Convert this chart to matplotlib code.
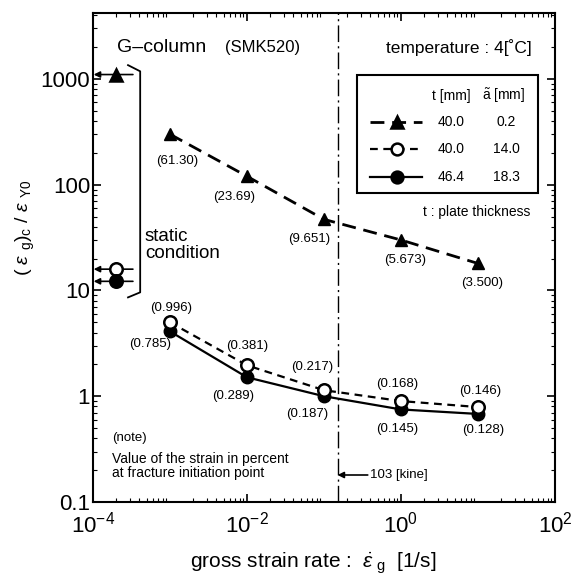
import numpy as np
import matplotlib
matplotlib.use("Agg")
import matplotlib.pyplot as plt
from matplotlib.lines import Line2D
from matplotlib.patches import Rectangle

plt.rcParams['font.family'] = ['Liberation Sans', 'DejaVu Sans']
plt.rcParams['mathtext.fontset'] = 'custom'
plt.rcParams['mathtext.rm'] = 'Liberation Sans'
plt.rcParams['mathtext.it'] = 'Liberation Sans:italic'

# data
rate = [1e-3, 1e-2, 1e-1, 1e0, 1e1]
tri_y = [300, 120, 47, 30, 18]
open_y = [5.0, 1.96, 1.14, 0.90, 0.79]
fill_y = [4.1, 1.51, 1.0, 0.75, 0.68]
tri_lbl = ['(61.30)', '(23.69)', '(9.651)', '(5.673)', '(3.500)']
open_lbl = ['(0.996)', '(0.381)', '(0.217)', '(0.168)', '(0.146)']
fill_lbl = ['(0.785)', '(0.289)', '(0.187)', '(0.145)', '(0.128)']
static_x = 2e-4
static_y = [1100, 15.9, 12.2]
kine_rate = 0.15

# label offsets in pixels (dx, dy up)
tri_off = [(7, -27), (-13, -21), (-15, -20), (4, -20), (4, -20)]
open_off = [(1, 14), (0, 19), (-12, 23), (-4, 17), (2, 16)]
fill_off = [(-20, -13), (-14, -19), (-17, -18), (-4, -20), (5, -16)]

W, H = 573, 581
fig = plt.figure(figsize=(W / 100, H / 100), dpi=100)
ax = fig.add_axes([93 / W, 1 - 502 / H, (555 - 93) / W, (502 - 13) / H])
ax.set_xscale('log')
ax.set_yscale('log')
ax.set_xlim(1e-4, 1e2)
ax.set_ylim(0.1, 4200)

dash_tri = (0, (5, 2.8))
dash_open = (0, (3.5, 2.5))
ax.plot(rate, tri_y, color='black', ls=dash_tri, lw=2, marker='^', ms=8.5)
ax.plot(rate, open_y, color='black', ls=dash_open, lw=1.6, marker='o', ms=9,
        mfc='white', mew=1.8, zorder=4)
ax.plot(rate, fill_y, color='black', ls='-', lw=1.6, marker='o', ms=9, zorder=3)

for xs, ys, lbls, offs in [(rate, tri_y, tri_lbl, tri_off), (rate, open_y, open_lbl, open_off),
                           (rate, fill_y, fill_lbl, fill_off)]:
    for x, y, s, (dx, dy) in zip(xs, ys, lbls, offs):
        ax.annotate(s, (x, y), xytext=(dx * 0.72, dy * 0.72), textcoords='offset points',
                    ha='center', va='center', fontsize=9.5)

# static condition points with arrows to the axis
for y, m, fc in zip(static_y, ['^', 'o', 'o'], ['black', 'white', 'black']):
    ax.annotate('', xy=(1.02e-4, y), xytext=(3.3e-4, y),
                arrowprops=dict(arrowstyle='-|>', color='black', lw=1.2,
                                mutation_scale=9, shrinkA=0, shrinkB=0))
    ax.plot([static_x], [y], marker=m, ms=9 if m == 'o' else 8.5, mfc=fc, mec='black',
            mew=1.8, color='black', zorder=5)

# bracket
bx = [2.85e-4, 4.1e-4, 4.1e-4, 2.85e-4]
by = [1350, 1180, 9.6, 8.6]
ax.plot(bx, by, color='black', lw=1.3)
ax.text(4.7e-4, 27, 'static\ncondition', fontsize=13.5, va='center', ha='left', linespacing=1.0)

# vertical line for 103 kine
ax.axvline(kine_rate, color='black', ls=(0, (12, 3, 1.5, 3)), lw=1)
ax.annotate('', xy=(kine_rate, 0.18), xytext=(0.37, 0.18),
            arrowprops=dict(arrowstyle='-|>', color='black', lw=1.2, mutation_scale=9,
                            shrinkA=0, shrinkB=0))
ax.text(0.40, 0.18, '103 [kine]', fontsize=9.5, va='center', ha='left')

# note
ax.text(1.75e-4, 0.4, '(note)', fontsize=9.5, va='center')
ax.text(1.75e-4, 0.22, 'Value of the strain in percent\nat fracture initiation point',
        fontsize=10, va='center', linespacing=1.05)

ax.text(0.052, 0.93, 'G\u2013column', transform=ax.transAxes, fontsize=14, va='center')
ax.text(0.285, 0.93, '(SMK520)', transform=ax.transAxes, fontsize=12, va='center')
ax.text(0.95, 0.93, 'temperature : 4[\u02daC]', transform=ax.transAxes, fontsize=12.5,
        va='center', ha='right')

# legend box, drawn by hand in figure pixels
def fp(x, y):
    return (x / W, 1 - y / H)

x0, y0 = fp(357, 193)
x1, y1 = fp(538, 75)
fig.patches.append(Rectangle((x0, y0), x1 - x0, y1 - y0, transform=fig.transFigure,
                             fill=False, lw=1.5, ec='black'))
fig.text(*fp(451, 96), 't [mm]', fontsize=10, ha='center', va='center')
fig.text(*fp(504, 96), '$\\tilde{\\mathrm{a}}$ [mm]', fontsize=10, ha='center', va='center')
rows = [(122, dash_tri, 2, '^', 'black', '40.0', '0.2'),
        (149, dash_open, 1.6, 'o', 'white', '40.0', '14.0'),
        (177, '-', 1.6, 'o', 'black', '46.4', '18.3')]
for ry, ls, lw, m, fc, t, a in rows:
    xa, ya = fp(370, ry)
    xb, _ = fp(422, ry)
    xm, _ = fp(397, ry)
    fig.add_artist(Line2D([xa, xb], [ya, ya], transform=fig.transFigure, color='black',
                          ls=ls, lw=lw))
    fig.add_artist(Line2D([xm], [ya], transform=fig.transFigure, marker=m, ms=8.5,
                          mfc=fc, mec='black', mew=1.8, color='black'))
    fig.text(*fp(451, ry), t, fontsize=10, ha='center', va='center')
    fig.text(*fp(506, ry), a, fontsize=10, ha='center', va='center')
fig.text(*fp(530, 212), 't : plate thickness', fontsize=10, ha='right', va='center')

ax.set_yticks([0.1, 1, 10, 100, 1000])
ax.set_yticklabels(['0.1', '1', '10', '100', '1000'])
ax.set_xticks([1e-4, 1e-2, 1e0, 1e2])
ax.set_xticklabels(['$10^{-4}$', '$10^{-2}$', '$10^{0}$', '$10^{2}$'])
ax.tick_params(which='both', direction='in', top=True, right=True)
ax.tick_params(which='major', length=6, width=1.2, labelsize=16, pad=2)
ax.tick_params(axis='x', which='major', pad=7)
ax.tick_params(which='minor', length=3, width=0.8)
for s in ax.spines.values():
    s.set_linewidth(1.5)

ax.set_xlabel('gross strain rate :  $\\dot{\\varepsilon}_{\\ \\mathrm{g}}$  [1/s]', fontsize=15,
              va='center')
ax.xaxis.set_label_coords((313 - 93) / 462, (502 - 563) / 489)
ax.set_ylabel('$(\\ \\varepsilon\\ _{\\mathrm{g}})_{\\mathrm{c}}\\ /\\ \\varepsilon\\ _{\\mathrm{Y0}}$',
              fontsize=14, va='center')
ax.yaxis.set_label_coords((25 - 93) / 462, (502 - 228) / 489)

fig.savefig('out.png', dpi=100)
